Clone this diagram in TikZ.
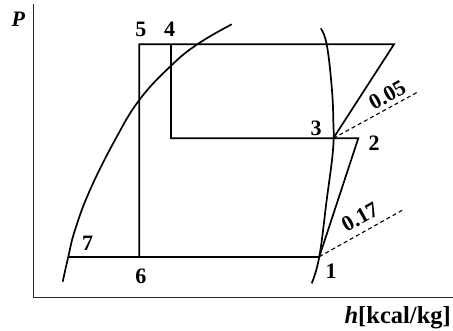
\documentclass[tikz,border=0pt]{standalone}
\usepackage{fontspec}
\setmainfont{Liberation Serif}
\begin{document}
\begin{tikzpicture}[x=1pt,y=-1pt,
  ln/.style={line width=1.7pt, line join=miter},
  axis/.style={line width=1.5pt, draw=black!85},
  dsh/.style={line width=1.1pt, dash pattern=on 4pt off 3pt},
  lbl/.style={inner sep=0pt, anchor=base, font=\bfseries\fontsize{22}{26}\selectfont}]
\useasboundingbox (0,0) rectangle (453,330);
% axes
\coordinate (ytop) at (33.3,4);
\coordinate (org) at (33.3,297.3);
\coordinate (xend) at (453,297.3);
\draw[axis] (ytop) -- (org) -- (xend);
% cycle points
\coordinate (p1) at (319.3,256.7);
\coordinate (p2) at (358.3,138.3);
\coordinate (p3) at (333.3,138.3);
\coordinate (p4) at (171,44.3);
\coordinate (p4b) at (171,138.3);
\coordinate (p5) at (139.3,44.3);
\coordinate (p6) at (139.3,256.7);
\coordinate (p7) at (68.3,256.7);
\coordinate (ptop) at (394,44.3);
\coordinate (d1) at (418.3,91.7);
\coordinate (d2) at (402.7,210);
% saturation curves
\draw[ln] plot[smooth, tension=0.7] coordinates {(62.7,281.7) (68.3,256.7) (75,230) (90,190) (115,140) (139.3,100) (170,66.7) (197.3,44.3) (231.7,24.3)};
\draw[ln] plot[smooth, tension=0.7] coordinates {(311.7,283.3) (319.3,256.7) (326.7,200) (333,150) (333.3,120) (331.7,86.7) (326.7,44.3) (320.7,28.3)};
% cycle
\draw[ln] (p6) -- (p5) -- (ptop) -- (p3);
\draw[ln] (p4) -- (p4b) -- (p2) -- (p1);
\draw[ln] (p7) -- (p1);
\draw[dsh] (p3) -- (d1);
\draw[dsh] (p1) -- (d2);
% labels
\node[lbl] (lP) at (18.5,26.5) {\textit{P}};
\node[lbl, anchor=base east, font=\bfseries\fontsize{24.5}{28}\selectfont] (lh) at (451,323) {\textit{h}[kcal/kg]};
\node[lbl] (l5) at (140.8,36) {5};
\node[lbl] (l4) at (169.7,36) {4};
\node[lbl] (l3) at (316,135) {3};
\node[lbl] (l2) at (374,150) {2};
\node[lbl] (l7) at (87.5,250.7) {7};
\node[lbl] (l6) at (140.8,283) {6};
\node[lbl] (l1) at (331,278.3) {1};
\node[lbl, anchor=center, rotate=29] (l005) at (387.3,95) {0.05};
\node[lbl, anchor=center, rotate=29] (l017) at (360,217) {0.17};
\end{tikzpicture}
\end{document}
